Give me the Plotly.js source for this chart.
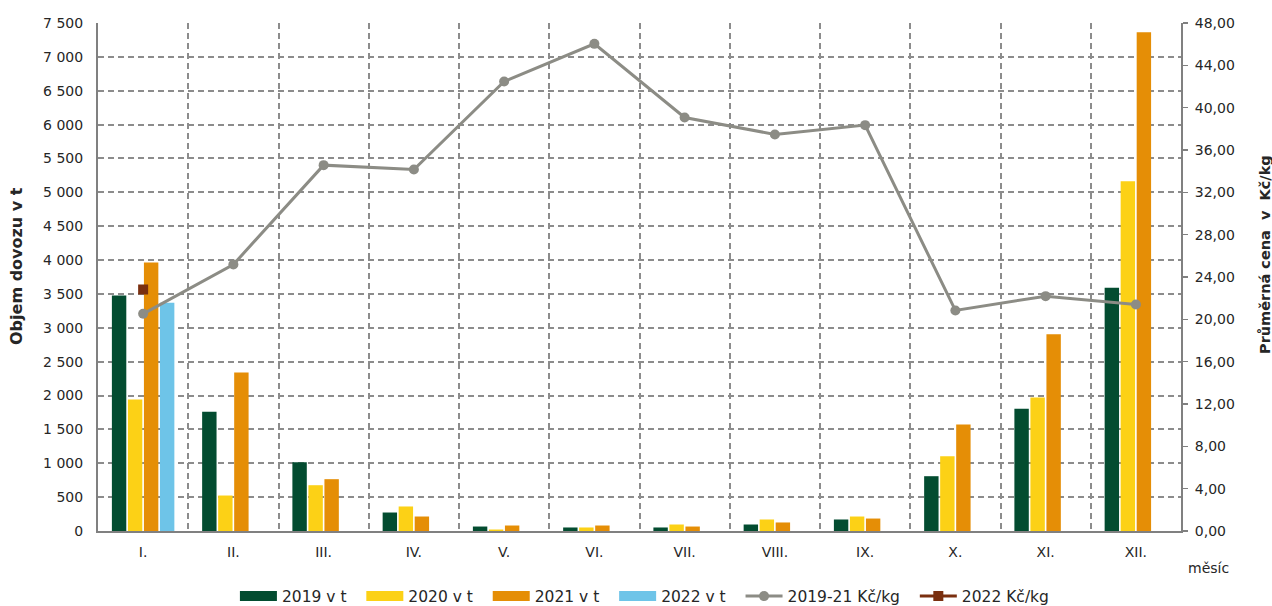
<!DOCTYPE html>
<html>
<head>
<meta charset="utf-8">
<script src="https://cdn.plot.ly/plotly-3.0.1.min.js"></script>
<style>
html,body{margin:0;padding:0;background:#fff;}
#chart{width:1272px;height:606px;}
</style>
</head>
<body>
<div id="chart"></div>
<script>
const categories = ['I.','II.','III.','IV.','V.','VI.','VII.','VIII.','IX.','X.','XI.','XII.'];
const vol2019 = [3476,1759,1015,273,66,52,52,96,170,809,1804,3590];
const vol2020 = [1941,524,676,362,22,52,96,170,214,1104,1970,5163];
const vol2021 = [3963,2339,765,214,81,81,66,126,184,1572,2905,7362];
const vol2022 = [3368,null,null,null,null,null,null,null,null,null,null,null];
const price1921 = [20.52,25.18,34.57,34.16,42.47,46.03,39.07,37.47,38.35,20.84,22.19,21.40];
const price2022 = [22.82,null,null,null,null,null,null,null,null,null,null,null];

const seriesNames = ['2019 v t','2020 v t','2021 v t','2022 v t','2019-21 Kč/kg','2022 Kč/kg'];
const colors = ['#034c30','#fcd116','#e58e06','#6ec4e8','#8c8c85','#7a2f0f'];

const FONT = 'Verdana, "DejaVu Sans", sans-serif';
const PAD = '\u00a0\u00a0'; // extra room after each legend label

// bars (legend shown through wide-swatch entries below)
const bars = [vol2019, vol2020, vol2021, vol2022].map((vals, i) => ({
  type: 'bar',
  x: categories,
  y: vals,
  name: seriesNames[i],
  legendgroup: 'g' + i,
  showlegend: false,
  marker: {color: colors[i], line: {width: 0}},
  yaxis: 'y'
}));
// legend swatches for the bar series (no marks drawn)
const barKeys = [0, 1, 2, 3].map(i => ({
  type: 'scatter', mode: 'lines',
  x: [null], y: [null],
  name: seriesNames[i] + PAD,
  legendgroup: 'g' + i,
  line: {color: colors[i], width: 12},
  yaxis: 'y'
}));

const line1 = {
  type: 'scatter', mode: 'lines+markers',
  x: categories, y: price1921, name: seriesNames[4] + PAD,
  yaxis: 'y2',
  line: {color: colors[4], width: 3},
  marker: {color: colors[4], size: 10, symbol: 'circle'}
};
const line2 = {
  type: 'scatter', mode: 'lines+markers',
  x: categories, y: price2022, name: seriesNames[5],
  yaxis: 'y2',
  line: {color: colors[5], width: 3},
  marker: {color: colors[5], size: 10, symbol: 'square'}
};

const gridStyle = {gridcolor: '#8c8c8c', gridwidth: 2, griddash: '6px,4px'};

const layout = {
  width: 1272, height: 606,
  margin: {l: 98, r: 91, t: 23, b: 75, pad: 0, autoexpand: false},
  paper_bgcolor: '#ffffff', plot_bgcolor: '#ffffff',
  separators: ', ',
  font: {family: FONT, size: 14, color: '#262626'},
  barmode: 'group', bargap: 0.29, bargroupgap: 0.1,
  showlegend: true,
  legend: {orientation: 'h', x: 0.505, xanchor: 'center', y: -0.129, yanchor: 'middle',
           itemwidth: 37, font: {family: FONT, size: 15.5, color: '#262626'}, traceorder: 'normal'},
  xaxis: Object.assign({
    type: 'category', tickson: 'boundaries', showgrid: true, range: [-0.5, 11.5], autorange: false,
    showline: true, linecolor: '#808080', linewidth: 2,
    ticks: '', ticklabelstandoff: 7,
    tickfont: {family: FONT, size: 14, color: '#262626'},
    zeroline: false, fixedrange: true
  }, gridStyle),
  yaxis: Object.assign({
    range: [0, 7500], dtick: 500, tick0: 0, tickformat: ',d',
    showgrid: true, showline: true, linecolor: '#808080', linewidth: 2,
    ticks: '', ticklabelstandoff: 10, zeroline: false,
    tickfont: {family: FONT, size: 14, color: '#262626'}
  }, gridStyle),
  yaxis2: {
    overlaying: 'y', side: 'right', range: [0, 48], dtick: 4, tick0: 0, tickformat: '.2f',
    showgrid: false, showline: true, linecolor: '#808080', linewidth: 2,
    ticks: 'outside', ticklen: 5, tickcolor: '#808080', tickwidth: 1.5,
    ticklabelstandoff: 4, zeroline: false,
    tickfont: {family: FONT, size: 14, color: '#262626'}
  },
  annotations: [
    {text: '<b>Objem dovozu v t</b>', xref: 'paper', yref: 'paper', x: 0, y: 0.5,
     xshift: -82, yshift: 11, textangle: -90, showarrow: false,
     xanchor: 'center', yanchor: 'middle', font: {family: FONT, size: 16, color: '#262626'}},
    {text: '<b>Průměrná cena  v  Kč/kg</b>', xref: 'paper', yref: 'paper', x: 1, y: 0.5,
     xshift: 84, yshift: 22, textangle: -90, showarrow: false,
     xanchor: 'center', yanchor: 'middle', font: {family: FONT, size: 14.5, color: '#262626'}},
    {text: 'měsíc', xref: 'paper', yref: 'paper', x: 1, y: 0, xshift: 27, yshift: -37,
     showarrow: false, xanchor: 'center', yanchor: 'middle',
     font: {family: FONT, size: 14, color: '#262626'}}
  ]
};

Plotly.newPlot('chart', bars.concat(barKeys, [line1, line2]), layout, {displayModeBar: false, staticPlot: true});
</script>
</body>
</html>
